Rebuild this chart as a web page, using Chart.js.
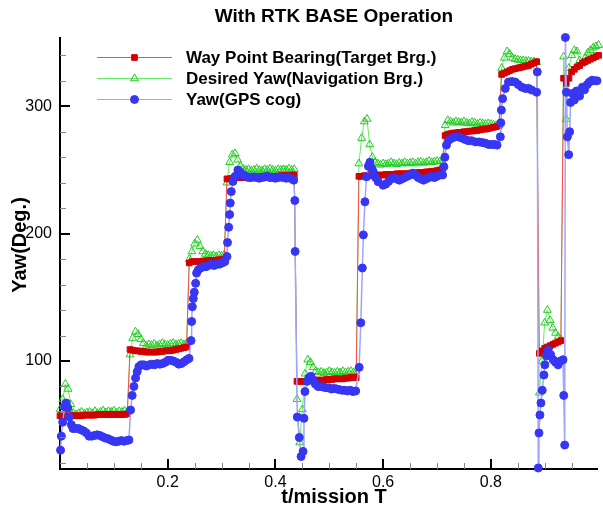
<!DOCTYPE html>
<html><head><meta charset="utf-8">
<script src="https://cdn.jsdelivr.net/npm/chart.js@4"></script>
<style>html,body{margin:0;padding:0;background:#fff;}canvas{display:block;}</style>
</head><body>
<canvas id="c" width="603" height="508"></canvas>
<script>
const chartTitle = 'With RTK BASE Operation';
const xTitle = 't/mission T';
const yTitle = 'Yaw(Deg.)';
const seriesNames = ['Way Point Bearing(Target Brg.)', 'Desired Yaw(Navigation Brg.)', 'Yaw(GPS cog)'];

// shared time samples for the red and green series
const t = [
0,0.005,0.01,0.015,0.02,0.025,0.03,0.035,0.04,0.045,0.05,0.055,0.06,0.065,0.07,0.075,0.08,0.085,0.09,0.095,
0.1,0.105,0.11,0.115,0.12,0.125,0.13,0.135,0.14,0.145,0.15,0.155,0.16,0.165,0.17,0.175,0.18,0.185,0.19,0.195,
0.2,0.205,0.21,0.215,0.22,0.225,0.23,0.235,0.24,0.245,0.25,0.255,0.26,0.265,0.27,0.275,0.28,0.285,0.29,0.295,
0.3,0.305,0.31,0.315,0.32,0.325,0.33,0.335,0.34,0.345,0.35,0.355,0.36,0.365,0.37,0.375,0.38,0.385,0.39,0.395,
0.4,0.405,0.41,0.415,0.42,0.425,0.43,0.435,0.44,0.445,0.45,0.455,0.46,0.465,0.47,0.475,0.48,0.485,0.49,0.495,
0.5,0.505,0.51,0.515,0.52,0.525,0.53,0.535,0.54,0.545,0.55,0.555,0.56,0.565,0.57,0.575,0.58,0.585,0.59,0.595,
0.6,0.605,0.61,0.615,0.62,0.625,0.63,0.635,0.64,0.645,0.65,0.655,0.66,0.665,0.67,0.675,0.68,0.685,0.69,0.695,
0.7,0.705,0.71,0.715,0.72,0.725,0.73,0.735,0.74,0.745,0.75,0.755,0.76,0.765,0.77,0.775,0.78,0.785,0.79,0.795,
0.8,0.805,0.81,0.815,0.82,0.825,0.83,0.835,0.84,0.845,0.85,0.855,0.86,0.865,0.87,0.875,0.88,0.885,0.89,0.895,
0.9,0.905,0.91,0.915,0.92,0.925,0.93,0.935,0.94,0.945,0.95,0.955,0.96,0.965,0.97,0.975,0.98,0.985,0.99,0.995,
1
];

const wayPointBearing = [
57,57,57,57.5,57.5,57,57,57,57,57.5,57.5,57.5,57.5,57.5,58,58,58,58,58,58,58,58,58,58,58,58.5,
109,108.5,108,108,107.5,107.5,107,107,107,107,107,107.5,107.5,108,108,108,108.5,109,109.5,110,110.5,111,
177,178,178,178,178,178.5,178.5,178.5,179,179,179,179.5,179.5,180,
243,243,243.5,244,244,244,244,244,244,244.5,244.5,244.5,244.5,245,245,245,245,245,245,245,245.5,245.5,245.5,245.5,246,246,
84,84,84,84,84.5,84.5,85,85,85,85,85,85.5,85.5,85.5,86,86,86,86,86.5,86.5,87,87,87,
245,245,245.5,245.5,245.5,246,246,246,246,246,246.5,246.5,246.5,246.5,247,247,247,247,247,247.5,247.5,247.5,248,248,248,248.5,248.5,249,249,249.5,250,251,
277,278,278.5,279,279,279.5,279.5,280,280,280.5,280.5,281,281,281.5,282,282,282.5,283,283.5,284,284.5,
325,326,327,328,329,329.5,330,330.5,331,331.5,332,333,334,335,
106,108,110,111,112,113,114,115,116,
322,318,322,327,329,331,332,334,335,336,337,338,339,340
];

const desiredYaw = [
62,70,82,78,66,59,58,59,60,58.5,59.5,60,59,60.5,59,60,61,59.5,60.5,60,61,59.5,60.5,60,61,60,
105,118,123,121,117,114,112,113,112.5,113.5,112,113,114,113,112.5,113.5,114,113,113.5,114,113,114,
180,186,192,195,190,186,184,183,182.5,183,182,183,182.5,183.5,
240,256,262,263,258,253,251,250,250.5,249.5,250,251,250,249.5,250.5,250,251,250,249.5,250.5,250,250.5,250,251,250,250.5,
70,36,62,90,101,99,95,92,91,91.5,90.5,91,92,91,90.5,91.5,91,92,91,91.5,92,91,92,
255,275,288,290,270,260,256,255,254,255,254.5,255,256,255,254.5,255.5,255,256,255,255.5,256,255,256,256.5,255.5,256,257,256,256.5,257,256.5,257,
285,289,288,287,288,287.5,287,288,287,286.5,287.5,287,286,287,286.5,286,286.5,286,285.5,285,285,
330,338,343,341,338,337,336.5,336,336,335.5,335.5,335,335,334.5,
75,100,130,140,132,126,122,119,117,
339,290,330,340,344,343,336,334,338,342,344,346,347,348
];

// [t, yaw] samples of the GPS course
const yawGpsSamples = [
[0.001,30],[0.0025,41],[0.005,52],[0.0085,64],[0.0115,67],[0.0145,63],[0.0175,56],[0.021,50],[0.024,47],[0.029,47],
[0.034,47],[0.039,46],[0.044,45],[0.049,43.5],[0.054,41],[0.059,41],[0.064,41.5],[0.069,42],[0.074,41.5],[0.079,40.5],
[0.084,39.5],[0.089,39],[0.094,38],[0.099,37],[0.104,36.5],[0.109,37],[0.114,37.5],[0.119,37],[0.124,37.5],[0.128,38],
[0.1311,61.5],[0.134,73],[0.1372,80],[0.1403,86.6],[0.1433,91.6],[0.1464,95.5],[0.1505,97],[0.1555,97],[0.1605,96],[0.1655,97],
[0.1705,97.5],[0.1755,97],[0.1805,98],[0.1855,97.5],[0.1905,98],[0.1955,99],[0.2005,100.5],[0.2055,100.5],[0.2105,100],[0.2155,99],
[0.2205,97.5],[0.2255,98],[0.2305,99.5],[0.2355,101],[0.2395,102],
[0.2433,116],[0.2444,131],[0.2457,142.6],[0.2475,149],[0.2494,154],[0.2518,161],[0.2536,169],[0.2567,171.5],[0.261,173],[0.266,174],
[0.271,174],[0.276,175],[0.281,176],[0.286,175],[0.291,176],[0.296,176],[0.301,177],[0.306,178],
[0.31,182],[0.311,193],[0.3132,205],[0.315,215],[0.3161,224],[0.318,233],[0.3211,241],[0.3253,245],[0.3303,250],[0.335,248],
[0.34,246],[0.345,245],[0.35,244],[0.355,244],[0.36,244.5],[0.365,244],[0.37,243.5],[0.375,244],[0.38,244.5],[0.385,245],
[0.39,244],[0.395,244],[0.4,243.5],[0.405,244],[0.41,244.5],[0.415,244],[0.42,243.5],[0.425,244],[0.43,243],[0.434,242],
[0.436,226],[0.4366,186],[0.4406,56],[0.4443,40],[0.4476,25],[0.4513,29],[0.453,55],[0.4548,76],[0.459,84],[0.4625,87],
[0.466,88],[0.47,85],[0.474,82],[0.479,80],[0.484,80],[0.489,79.5],[0.494,79],[0.499,79],[0.504,78],[0.509,78.5],
[0.514,78],[0.519,77.5],[0.524,77],[0.529,77],[0.534,76.5],[0.539,77],[0.544,76],[0.549,76.5],
[0.5555,95],[0.5585,130],[0.5614,173],[0.5633,199],[0.5662,225],[0.5692,244.6],[0.5725,253],[0.5754,256],[0.579,251],[0.5816,248.6],
[0.586,244],[0.5908,240.7],[0.6,238],[0.605,239],[0.61,241],[0.615,243],[0.62,244],[0.625,243],[0.63,242],[0.635,243],
[0.64,244],[0.645,245],[0.65,246],[0.655,247.5],[0.66,246],[0.665,244],[0.67,243],[0.675,242],[0.68,243],[0.685,244],
[0.69,245],[0.695,244],[0.7,245],[0.705,246],[0.7104,246],
[0.7128,252.5],[0.7146,260],[0.7176,269.5],[0.722,273.5],[0.728,275],[0.734,276],[0.74,276],[0.746,275],[0.752,274],[0.758,273],
[0.764,273],[0.7716,272],[0.778,272],[0.784,271.5],[0.79,271],[0.796,270],[0.802,270],[0.807,270],[0.8115,269.5],
[0.8176,276],[0.8185,287],[0.8195,297],[0.8218,306],[0.8268,314],[0.8329,319],[0.839,319.5],[0.8451,319],[0.851,317],[0.8575,315],
[0.864,314],[0.87,314],[0.8759,312.7],[0.885,311],[0.8862,327],
[0.888,16],[0.8893,43.5],[0.8911,57.6],[0.893,67],[0.8954,77],[0.8985,89],[0.9003,97],[0.9035,104],[0.9064,108.6],[0.911,105],
[0.9156,101],[0.92,99],[0.9248,97],[0.929,100],[0.934,101],[0.9353,73],[0.9371,34],
[0.9384,354],[0.9402,311],[0.942,276],[0.9445,262],[0.9463,280],[0.948,303],[0.951,310],[0.955,305],[0.959,312],[0.9647,308],
[0.97,315],[0.974,313],[0.979,317],[0.983,319],[0.988,320.5],[0.992,320],[0.997,320]
];

const xTickValues = [0.2, 0.4, 0.6, 0.8];
const xMinorTicks = [0.05,0.1,0.15,0.25,0.3,0.35,0.45,0.5,0.55,0.65,0.7,0.75,0.85,0.9,0.95];
const yTickValues = [100, 200, 300];
const yMinorTicks = [20,40,60,80,120,140,160,180,220,240,260,280,320,340];
const xRange = [0, 0.998];
const yRange = [15.2, 353.6];

const FONT = '"Liberation Sans", Arial, sans-serif';

function drawMarker(ctx, style, x, y, r) {
  ctx.beginPath();
  if (style === 'rect') {
    const s = r * Math.SQRT2 / 2;
    ctx.rect(x - s, y - s, 2 * s, 2 * s);
  } else if (style === 'triangle') {
    ctx.moveTo(x, y - r);
    ctx.lineTo(x + r * 0.866, y + r * 0.5);
    ctx.lineTo(x - r * 0.866, y + r * 0.5);
    ctx.closePath();
  } else {
    ctx.arc(x, y, r, 0, Math.PI * 2);
  }
  ctx.fill();
  ctx.stroke();
}

const deco = {
  id: 'deco',
  afterDraw(chart) {
    const { ctx, chartArea: a, scales: { x, y } } = chart;
    ctx.save();
    // minor ticks (inward)
    ctx.strokeStyle = '#888';
    ctx.lineWidth = 1;
    yMinorTicks.forEach(v => {
      const py = Math.round(y.getPixelForValue(v)) + 0.5;
      ctx.beginPath(); ctx.moveTo(a.left, py); ctx.lineTo(a.left + 6, py); ctx.stroke();
    });
    xMinorTicks.forEach(v => {
      const px = Math.round(x.getPixelForValue(v)) + 0.5;
      ctx.beginPath(); ctx.moveTo(px, a.bottom); ctx.lineTo(px, a.bottom - 6); ctx.stroke();
    });
    // major ticks
    ctx.strokeStyle = '#000';
    ctx.lineWidth = 2;
    yTickValues.forEach(v => {
      const py = Math.round(y.getPixelForValue(v));
      ctx.beginPath(); ctx.moveTo(a.left, py); ctx.lineTo(a.left + 10, py); ctx.stroke();
    });
    xTickValues.forEach(v => {
      const px = Math.round(x.getPixelForValue(v));
      ctx.beginPath(); ctx.moveTo(px, a.bottom); ctx.lineTo(px, a.bottom - 10); ctx.stroke();
    });
    // titles
    ctx.fillStyle = '#000';
    ctx.textAlign = 'center';
    ctx.textBaseline = 'middle';
    ctx.font = 'bold 19px ' + FONT;
    ctx.fillText(chartTitle, 334, 17);
    ctx.font = 'bold 20px ' + FONT;
    ctx.fillText(xTitle, 334, 497);
    ctx.save();
    ctx.translate(20, 245);
    ctx.rotate(-Math.PI / 2);
    ctx.fillText(yTitle, 0, 0);
    ctx.restore();
    // legend
    const rows = [57, 78, 99];
    chart.data.datasets.forEach((ds, i) => {
      const ly = rows[i];
      ctx.strokeStyle = ds.borderColor;
      ctx.lineWidth = 1;
      ctx.beginPath(); ctx.moveTo(97, ly + 0.5); ctx.lineTo(172, ly + 0.5); ctx.stroke();
      ctx.fillStyle = ds.pointBackgroundColor;
      ctx.strokeStyle = ds.pointBorderColor;
      drawMarker(ctx, ds.pointStyle, 134.5, ly + 0.5, ds.pointRadius);
      ctx.fillStyle = '#000';
      ctx.textAlign = 'left';
      ctx.font = 'bold 17px ' + FONT;
      ctx.fillText(ds.label, 186, ly + 1);
    });
    ctx.restore();
  }
};

new Chart(document.getElementById('c'), {
  type: 'line',
  data: {
    datasets: [
      {
        label: seriesNames[0],
        data: t.map((v, i) => ({ x: v, y: wayPointBearing[i] })),
        borderColor: '#ff4a4a', borderWidth: 1,
        pointStyle: 'rect', pointRadius: 4,
        pointBackgroundColor: '#d40000', pointBorderColor: '#d40000', pointBorderWidth: 1,
        order: 1, clip: false
      },
      {
        label: seriesNames[1],
        data: t.map((v, i) => ({ x: v, y: desiredYaw[i] })),
        borderColor: '#66ee66', borderWidth: 1,
        pointStyle: 'triangle', pointRadius: 4.5,
        pointBackgroundColor: 'rgba(255,255,255,0)', pointBorderColor: '#22cc22', pointBorderWidth: 1,
        order: 2, clip: false
      },
      {
        label: seriesNames[2],
        data: yawGpsSamples.map(p => ({ x: p[0], y: p[1] })),
        borderColor: '#a0a4ff', borderWidth: 1.5,
        pointStyle: 'circle', pointRadius: 4,
        pointBackgroundColor: '#3636f4', pointBorderColor: '#3636f4', pointBorderWidth: 1,
        order: 0, clip: false
      }
    ]
  },
  options: {
    responsive: false, animation: false, devicePixelRatio: 1,
    layout: { padding: { top: 38, left: 0, right: 0, bottom: 0 } },
    plugins: { legend: { display: false }, tooltip: { enabled: false }, title: { display: false } },
    elements: { line: { tension: 0 } },
    scales: {
      x: {
        type: 'linear', min: xRange[0], max: xRange[1],
        afterBuildTicks: s => { s.ticks = xTickValues.map(v => ({ value: v })); },
        afterFit: s => { s.height = 39; },
        grid: { display: false, drawTicks: false },
        border: { display: true, color: '#000', width: 2 },
        ticks: { color: '#000', font: { family: FONT, size: 16 }, padding: 4, maxRotation: 0, autoSkip: false,
          callback: v => v.toFixed(1) }
      },
      y: {
        type: 'linear', min: yRange[0], max: yRange[1],
        afterBuildTicks: s => { s.ticks = yTickValues.map(v => ({ value: v })); },
        afterFit: s => { s.width = 60; },
        grid: { display: false, drawTicks: false },
        border: { display: true, color: '#000', width: 2 },
        ticks: { color: '#000', font: { family: FONT, size: 16 }, padding: 8, autoSkip: false,
          callback: v => String(v) }
      }
    }
  },
  plugins: [deco]
});
</script>
</body></html>
